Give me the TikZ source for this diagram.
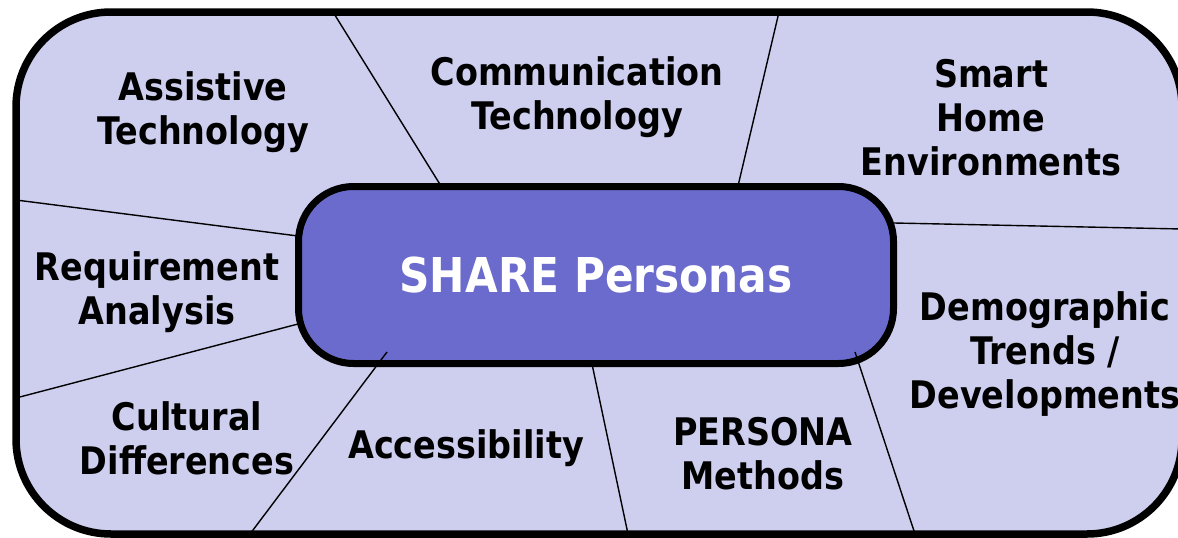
\documentclass[tikz,border=0pt]{standalone}
\usepackage{fontspec}
\setmainfont{DejaVu Sans}[FakeStretch=0.88]
\usepackage{xcolor}
\usepackage{tikz}
\usetikzlibrary{positioning}

\definecolor{paleblue}{HTML}{CECEEE}
\definecolor{hubblue}{HTML}{6B6BCD}

\begin{document}
\begin{tikzpicture}[x=1pt, y=-1pt, font=\bfseries\fontsize{38}{44}\selectfont]
        \tikzset{
            topic/.style={align=center, text=black, inner sep=0pt},
            hub/.style={draw, line width=7pt, rounded corners=55pt, fill=hubblue, text=white,
                font=\bfseries\fontsize{48}{56}\selectfont, minimum width=595pt, minimum height=177pt},
            divider/.style={line width=1.4pt}
        }
        \useasboundingbox (0,0) rectangle (1178,538);

        % Frame
        \draw[line width=7.5pt, rounded corners=95pt, fill=paleblue] (16,12) rectangle (1182,534);

        % Centre
        \node[hub] (hub) at (596,275) {SHARE Personas};

        % Divider ends
        \coordinate (f1) at (333,12);   \coordinate (h1) at (441,186);
        \coordinate (f2) at (779,12);   \coordinate (h2) at (738,186);
        \coordinate (f3) at (1182,229); \coordinate (h3) at (894,223);
        \coordinate (f4) at (16,200);   \coordinate (h4) at (298,236);
        \coordinate (f5) at (16,398);   \coordinate (h5) at (298,324);
        \coordinate (f6) at (250,534);  \coordinate (h6) at (387,352);
        \coordinate (f7) at (628,534);  \coordinate (h7) at (592,364);
        \coordinate (f8) at (915,534);  \coordinate (h8) at (855,352);

        \foreach \i in {1,...,8}
            \draw[divider] (h\i) -- (f\i);

        % Topics
        \node[topic] (assistive) at (203,112) {Assistive\\Technology};
        \node[topic] (comm) at (577,97) {Communication\\Technology};
        \node[topic] (smarthome) at (991,118) {Smart\\Home\\Environments};
        \node[topic] (requirement) at (157,292) {Requirement\\Analysis};
        \node[topic] (demographic) at (1045,354) {Demographic\\Trends /\\Developments};
        \node[topic] (cultural) at (187,438) {Cultural\\Differences};
        \node[topic] (access) at (466,448) {Accessibility};
        \node[topic] (methods) at (763,454) {PERSONA\\Methods};

    \end{tikzpicture}
\end{document}
